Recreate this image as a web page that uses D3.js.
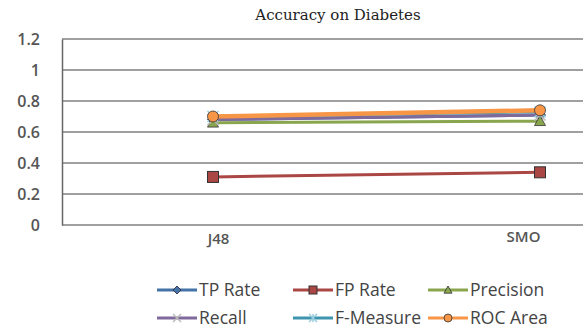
<!DOCTYPE html>
<html><head><meta charset="utf-8">
<script src="https://cdn.jsdelivr.net/npm/d3@7"></script>
<style>body{margin:0;background:#fff}svg{display:block}</style>
</head><body>
<svg id="c" width="583" height="331"></svg>
<script>
const categories = ["J48", "SMO"];
const seriesNames = ["TP Rate", "FP Rate", "Precision", "Recall", "F-Measure", "ROC Area"];
const tpRate = [0.68, 0.71];
const fpRate = [0.31, 0.34];
const precision = [0.66, 0.67];
const recall = [0.68, 0.71];
const fMeasure = [0.70, 0.73];
const rocArea = [0.70, 0.74];
const yTicks = [0, 0.2, 0.4, 0.6, 0.8, 1, 1.2];
const colors = ["#4572A7", "#AA4643", "#89A54E", "#80699B", "#3D96AE", "#F79646"];
const symbols = ["diamond", "square", "triangle", "x", "star", "circle"];
const values = [tpRate, fpRate, precision, recall, fMeasure, rocArea];

const svg = d3.select("#c");
const pLeft = 62, pRight = 583, pTop = 39, pBottom = 225;
const x = d3.scalePoint().domain(categories).range([213, 540]);
const y = d3.scaleLinear().domain([0, 1.2]).range([pBottom, pTop]);

// title
svg.append("text").attr("x", 338).attr("y", 20).attr("text-anchor", "middle")
  .attr("font-family", "DejaVu Serif").attr("font-size", 15)
  .attr("fill", "#222").text("Accuracy on Diabetes");

// gridlines
svg.append("g").selectAll("line").data(yTicks).join("line")
  .attr("x1", pLeft).attr("x2", pRight).attr("y1", d => y(d)).attr("y2", d => y(d))
  .attr("stroke", "#808080").attr("stroke-width", 1.4);

// y axis
const yAxis = d3.axisLeft(y).tickValues(yTicks).tickSize(0).tickPadding(22).tickFormat(d => String(d));
const gy = svg.append("g").attr("transform", `translate(${pLeft},0)`).call(yAxis);
gy.select(".domain").attr("stroke", "#666").attr("stroke-width", 1.5);
gy.selectAll("text").attr("font-family", "Open Sans").attr("font-size", 16).attr("font-weight", 600).attr("fill", "#555");

// x labels
const xAxis = d3.axisBottom(x).tickSize(0).tickPadding(8);
const gx = svg.append("g").attr("transform", `translate(0,${pBottom})`).call(xAxis);
gx.select(".domain").remove();
gx.selectAll("text").attr("font-family", "Open Sans").attr("font-size", 15).attr("font-weight", 600).attr("fill", "#555")
  .attr("dx", (d, i) => i === 0 ? 5 : -17).attr("dy", (d, i) => i === 0 ? "0.71em" : "0.6em");

function marker(g, type, color, cx, cy, s) {
  if (type === "diamond") {
    g.append("path").attr("d", `M${cx},${cy-s}L${cx+s},${cy}L${cx},${cy+s}L${cx-s},${cy}Z`).attr("fill", color).attr("stroke", "#223").attr("stroke-width", 0.8);
  } else if (type === "square") {
    g.append("rect").attr("x", cx-s).attr("y", cy-s).attr("width", 2*s).attr("height", 2*s).attr("fill", color).attr("stroke", "#333").attr("stroke-width", 1);
  } else if (type === "triangle") {
    g.append("path").attr("d", `M${cx},${cy-s}L${cx+s},${cy+s*0.8}L${cx-s},${cy+s*0.8}Z`).attr("fill", color).attr("stroke", "#333").attr("stroke-width", 0.8);
  } else if (type === "x") {
    g.append("path").attr("d", `M${cx-s},${cy-s}L${cx+s},${cy+s}M${cx-s},${cy+s}L${cx+s},${cy-s}`).attr("stroke", "#bbb").attr("stroke-width", 1.5);
  } else if (type === "star") {
    g.append("path").attr("d", `M${cx-s},${cy-s}L${cx+s},${cy+s}M${cx-s},${cy+s}L${cx+s},${cy-s}M${cx},${cy-s}L${cx},${cy+s}`).attr("stroke", "#9cd").attr("stroke-width", 1.5);
  } else if (type === "circle") {
    g.append("circle").attr("cx", cx).attr("cy", cy).attr("r", s).attr("fill", color).attr("stroke", "#333").attr("stroke-width", 0.8);
  }
}

const line = d3.line().x((d, i) => x(categories[i])).y(d => y(d));
values.forEach((vals, si) => {
  const g = svg.append("g");
  g.append("path").attr("d", line(vals)).attr("fill", "none").attr("stroke", colors[si])
    .attr("stroke-width", si === 5 ? 4.5 : 3);
  vals.forEach((v, i) => marker(g, symbols[si], colors[si], x(categories[i]), y(v), 5.5));
});

// legend
const legCols = [157, 293, 428];
const legRows = [290, 318];
seriesNames.forEach((name, i) => {
  const lx = legCols[i % 3], ly = legRows[Math.floor(i / 3)];
  const g = svg.append("g");
  g.append("line").attr("x1", lx).attr("x2", lx + 40).attr("y1", ly).attr("y2", ly).attr("stroke", colors[i]).attr("stroke-width", 3);
  marker(g, symbols[i], colors[i], lx + 20, ly, 4);
  g.append("text").attr("x", lx + 42).attr("y", ly + 6).attr("font-family", "Open Sans").attr("font-size", 17.5)
    .attr("fill", "#444").text(name);
});
</script>
</body></html>
